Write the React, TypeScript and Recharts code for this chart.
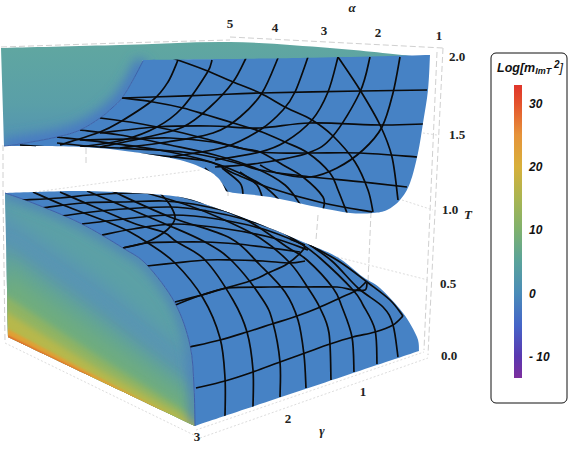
import React from "react";
import { ScatterChart, Scatter, XAxis, YAxis, ReferenceArea } from "recharts";

type P = number[];
const W = 574, H = 458;
const SERIF = "'Liberation Serif', serif";
const SANS = "'Liberation Sans', sans-serif";
const BLUE = "#4682c5";

// Picture-space read-offs of the projected 3D scene; repeated points are sharp corners
const backFace: P[] = [[1,48],[1,48],[120,45],[230,42],[330,48],[412,56],[412,56],[300,59],[143,60],[143,60],[138,72],[133,80],[122,98],[112,108],[100,118],[80,130],[57,137],[20,144],[4,146],[4,146]];
const backEdge: P[] = [[4,146],[20,144],[57,137],[80,130],[100,118],[112,108],[122,98],[133,80],[143,61]];
const upperSurface: P[] = [[143,60],[143,60],[220,59],[300,58],[430,55],[430,55],[428,90],[423,123],[418,153],[410,183],[400,200],[387,210],[373,213],[350,213],[317,207],[270,197],[235,193],[226,191],[226,191],[222,183],[217,177],[207,170],[180,160],[133,152],[83,147],[4,146],[4,146],[20,144],[57,137],[80,130],[100,118],[112,108],[122,98],[133,80]];
const lowerSurface: P[] = [[5,193],[5,193],[33,192],[83,191],[133,193],[180,197],[213,207],[257,223],[303,242],[337,257],[363,277],[380,288],[403,313],[417,337],[419,351],[419,351],[195,426],[195,426],[194,387],[190,345],[175,303],[147,265],[123,248],[80,223],[33,203]];
const sideFace: P[] = [[5,193],[5,193],[33,203],[80,223],[123,248],[147,265],[175,303],[190,345],[194,387],[195,426],[195,426],[8,337],[8,337]];
const sideEdge: P[] = [[195,426],[194,387],[190,345],[175,303],[147,265],[123,248],[80,223],[33,203],[5,193]];
const sideBands: P[][] = [
  [[0,190],[205,190],[205,370],[100,281],[0,212]],
  [[0,245],[100,316],[205,395],[205,445],[0,350]],
  [[0,270],[100,340],[205,413],[205,445],[0,350]],
  [[0,292],[100,358],[205,424],[205,445],[0,350]],
  [[0,308],[100,370],[205,429],[205,445],[0,350]],
  [[0,325],[100,378],[170,415],[100,395],[0,350]],
  [[0,332],[90,376],[90,395],[0,350]],
];
const sideBandColors = ["#5ca0a6", "#63a692", "#71ad7c", "#90b463", "#b7b84b", "#dfa035", "#e2552a"];

const upperMesh: P[][] = [
  [[400,57],[393,93],[382,127],[363,150],[337,168],[310,177],[277,173],[260,165]],
  [[370,57],[360,92],[333,136],[308,153],[260,163],[215,167]],
  [[338,57],[328,92],[312,120],[285,142],[260,152],[215,160]],
  [[308,57],[295,92],[283,110],[260,130],[225,147],[170,157]],
  [[278,58],[262,93],[240,117],[213,133],[167,142],[120,148]],
  [[246,58],[233,82],[210,107],[183,127],[143,138],[100,147]],
  [[212,60],[207,73],[182,108],[157,127],[123,140],[80,147]],
  [[178,60],[168,82],[153,100],[120,122],[100,132],[60,145]],
  [[172,58],[205,70],[233,82],[260,93],[287,108],[312,120],[333,136],[355,162],[368,190],[373,212]],
  [[338,57],[360,90],[380,125],[392,157],[398,200]],
  [[122,98],[153,102],[183,108],[207,115],[240,125],[262,132],[285,142],[308,153],[330,173],[338,190],[347,213]],
  [[100,118],[130,122],[157,127],[183,133],[210,140],[240,148],[260,152],[283,165],[303,177],[323,197],[323,210]],
  [[80,130],[120,135],[170,145],[215,155],[255,168],[285,185],[302,207]],
  [[57,137],[110,143],[170,152],[220,165],[262,185],[282,203]],
  [[122,98],[153,97],[210,95],[260,93],[360,91],[427,90]],
  [[100,133],[157,127],[210,126],[260,128],[310,123],[382,125],[423,124]],
  [[80,140],[130,139],[170,138],[213,142],[260,152],[308,153],[360,153],[417,157]],
  [[57,143],[100,147],[183,152],[233,162],[260,170],[303,176],[363,182],[407,187]],
  [[20,145],[100,151],[200,160],[233,173],[270,188],[323,203],[372,212]],
  [[205,168],[220,182],[228,193]],
  [[222,168],[240,183],[243,195]],
  [[240,172],[257,185],[263,200]],
];

const lowerMesh: P[][] = [
  [[33,192],[63,205],[110,223],[130,232],[148,243],[175,263],[203,298],[220,338],[225,378],[225,417]],
  [[60,192],[90,205],[133,223],[163,232],[177,242],[205,260],[233,300],[247,332],[253,370],[253,407]],
  [[87,191],[163,223],[205,242],[233,262],[263,300],[273,323],[280,362],[280,397]],
  [[112,191],[170,217],[230,238],[260,265],[285,292],[298,320],[304,355],[306,388]],
  [[140,191],[187,205],[220,218],[260,238],[290,263],[308,288],[320,308],[329,333],[331,380]],
  [[165,192],[210,205],[250,222],[287,247],[307,260],[333,288],[342,307],[352,337],[354,372]],
  [[195,197],[235,208],[270,225],[300,243],[320,258],[353,290],[363,305],[375,330],[377,364]],
  [[225,205],[255,215],[285,228],[310,245],[333,262],[358,288],[383,307],[393,325],[398,357]],
  [[310,245],[340,262],[367,282],[390,300],[403,316]],
  [[196,388],[225,381],[253,372],[280,362],[305,353],[330,344],[353,337],[375,332],[393,325],[403,316]],
  [[190,347],[220,340],[247,332],[272,324],[297,316],[318,308],[340,298],[357,290],[366,282]],
  [[175,302],[202,295],[228,288],[270,287],[303,287],[337,287],[353,290],[365,290],[367,283]],
  [[175,305],[202,295],[250,281],[268,273],[287,264],[303,250],[303,245],[290,239]],
  [[147,266],[175,263],[207,260],[233,260],[263,261],[290,263],[305,261]],
  [[123,248],[147,243],[177,242],[205,242],[237,244],[263,247],[300,252]],
  [[123,248],[147,242],[167,230],[175,218],[170,205],[160,193]],
  [[22,200],[60,198],[90,195],[133,193],[170,194],[205,200],[235,208]],
  [[42,208],[83,203],[123,202],[163,201],[193,204],[230,212],[265,222]],
  [[62,216],[110,210],[170,207],[207,211],[247,220],[285,233]],
  [[82,224],[133,218],[173,215],[217,219],[263,229],[305,245]],
  [[102,235],[133,229],[175,224],[227,229],[273,238],[308,250]],
];

const dashedLines: P[][] = [
  [[1,47],[120,43],[230,40]],
  [[230,37],[443,48]],
  [[443,48],[428,355]],
  [[437,52],[424,350]],
  [[3,145],[3,195],[5,340]],
  [[318,215],[316,240]],
  [[371,212],[368,282]],
  [[86,148],[86,166]],
  [[228,190],[228,198]],
];
const dottedLines: P[][] = [
  [[35,192],[200,170]],
  [[337,257],[428,280]],
  [[402,200],[433,210]],
  [[423,133],[437,135]],
  [[5,343],[200,438]],
  [[200,438],[428,358]],
  [[196,430],[424,352]],
];

const tickLabels = [
  { x: 230, y: 23, label: "5" }, { x: 275, y: 27, label: "4" }, { x: 324, y: 30, label: "3" },
  { x: 378, y: 32, label: "2" }, { x: 439, y: 35, label: "1" },
  { x: 457, y: 56, label: "2.0" }, { x: 457, y: 134, label: "1.5" }, { x: 450, y: 209, label: "1.0" },
  { x: 448, y: 283, label: "0.5" }, { x: 449, y: 355, label: "0.0" },
  { x: 363, y: 391, label: "1" }, { x: 288, y: 418, label: "2" }, { x: 197, y: 436, label: "3" },
];
const axisNames = [
  { x: 352, y: 7, label: "α" }, { x: 468, y: 214, label: "T" }, { x: 322, y: 430, label: "γ" },
];
const barLabels = [
  { x: 529, y: 104, label: "30" }, { x: 529, y: 167, label: "20" }, { x: 529, y: 230, label: "10" },
  { x: 529, y: 294, label: "0" }, { x: 529, y: 357, label: "- 10" },
];
const barStops: [number, string][] = [
  [0, "#e0352b"], [0.0625, "#e4522c"], [0.17, "#e6933a"], [0.278, "#d8b03a"], [0.39, "#a8b552"],
  [0.494, "#7fb16e"], [0.6, "#5aa39a"], [0.71, "#4a8cb8"], [0.82, "#4565c8"], [0.926, "#5a38b0"], [1, "#7d2f9e"],
];

const xy = (pts: P[]) => pts.map(([x, y]) => ({ x, y }));
const noDot = () => <g />;

function straight(pts: any[]) {
  return pts.map((p, i) => `${i ? "L" : "M"}${p.x} ${p.y}`).join("") + "Z";
}
function open(pts: any[]) {
  return pts.map((p, i) => `${i ? "L" : "M"}${p.x} ${p.y}`).join("");
}
function run(pts: any[]) {
  let d = "";
  for (let i = 0; i < pts.length - 1; i++) {
    const a = pts[Math.max(i - 1, 0)], b = pts[i], c = pts[i + 1], e = pts[Math.min(i + 2, pts.length - 1)];
    d += `C${b.x + (c.x - a.x) / 6} ${b.y + (c.y - a.y) / 6} ${c.x - (e.x - b.x) / 6} ${c.y - (e.y - b.y) / 6} ${c.x} ${c.y}`;
  }
  return d;
}
// a repeated point ends one smooth stretch and starts the next, leaving a sharp corner
function smooth(pts: any[]) {
  const runs: any[][] = [[]];
  pts.forEach((p, i) => {
    const prev = pts[i - 1];
    if (prev && prev.x === p.x && prev.y === p.y) runs.push([p]);
    else runs[runs.length - 1].push(p);
  });
  return `M${pts[0].x} ${pts[0].y}` + runs.map(run).join("");
}
const closed = (pts: any[]) => smooth(pts) + "Z";

function shape(key: string, pts: P[], draw: (points: any[]) => React.ReactElement) {
  return (
    <Scatter key={key} data={xy(pts)} isAnimationActive={false} shape={noDot}
      line={((p: any) => draw(p.points)) as any} />
  );
}

function texts(key: string, rows: { x: number; y: number; label: string }[], style: any, anchor = "middle") {
  return (
    <Scatter key={key} data={rows} isAnimationActive={false}
      shape={((p: any) => (
        <text x={p.cx} y={p.cy} textAnchor={anchor} dominantBaseline="central" style={style}>{p.payload.label}</text>
      )) as any} />
  );
}

export default function App() {
  return (
    <div style={{ position: "absolute", left: 0, top: 0, width: W, height: H }}>
      <ScatterChart width={W} height={H} margin={{ top: 0, right: 0, bottom: 0, left: 0 }}>
        <XAxis type="number" dataKey="x" domain={[0, W]} hide />
        <YAxis type="number" dataKey="y" domain={[0, H]} reversed hide />
        <defs>
          <linearGradient id="barGrad" x1="0" y1="0" x2="0" y2="1">
            {barStops.map(([o, c]) => <stop key={o} offset={o} stopColor={c} />)}
          </linearGradient>
          <linearGradient id="backGrad" x1="0" y1="0" x2="0" y2="1">
            <stop offset="0" stopColor="#60a7a0" />
            <stop offset="0.6" stopColor="#5a9fa8" />
            <stop offset="1" stopColor="#5292b4" />
          </linearGradient>
          <filter id="b1" x="-20%" y="-20%" width="140%" height="140%"><feGaussianBlur stdDeviation="1.2" /></filter>
          <filter id="b3" x="-20%" y="-20%" width="140%" height="140%"><feGaussianBlur stdDeviation="3" /></filter>
          <filter id="b5" x="-20%" y="-20%" width="140%" height="140%"><feGaussianBlur stdDeviation="9" /></filter>
          <filter id="b9" x="-20%" y="-50%" width="140%" height="200%"><feGaussianBlur stdDeviation="6" /></filter>
        </defs>

        {dashedLines.map((l, i) => shape(`da${i}`, l, (p) => (
          <path d={open(p)} fill="none" stroke="#d0d0d0" strokeWidth={1} strokeDasharray="6 3" />
        )))}
        {dottedLines.map((l, i) => shape(`do${i}`, l, (p) => (
          <path d={open(p)} fill="none" stroke="#dddddd" strokeWidth={1} strokeDasharray="2 2" />
        )))}

        {shape("clipBack", backFace, (p) => <clipPath id="cBack"><path d={closed(p)} /></clipPath>)}
        {shape("clipSide", sideFace, (p) => <clipPath id="cSide"><path d={closed(p)} /></clipPath>)}
        {shape("clipUp", upperSurface, (p) => <clipPath id="cUp"><path d={closed(p)} /></clipPath>)}
        {shape("clipLow", lowerSurface, (p) => <clipPath id="cLow"><path d={closed(p)} /></clipPath>)}

        {shape("back", backFace, (p) => <path d={closed(p)} fill="url(#backGrad)" />)}
        {shape("backGlow", backEdge, (p) => (
          <g clipPath="url(#cBack)"><path d={smooth(p)} fill="none" stroke="#4678c4" strokeWidth={14} filter="url(#b9)" /></g>
        ))}
        {shape("up", upperSurface, (p) => <path d={closed(p)} fill={BLUE} />)}
        {shape("backLine", backEdge, (p) => <path d={smooth(p)} fill="none" stroke="#3f62a8" strokeWidth={1} />)}
        {upperMesh.map((l, i) => shape(`um${i}`, l, (p) => (
          <g clipPath="url(#cUp)"><path d={smooth(p)} fill="none" stroke="#0b0b0b" strokeWidth={1.7} /></g>
        )))}

        {shape("side", sideFace, (p) => <path d={closed(p)} fill="#5894b4" />)}
        {sideBands.map((b, i) => shape(`sb${i}`, b, (p) => (
          <g clipPath="url(#cSide)">
            <path d={straight(p)} fill={sideBandColors[i]} filter={i < 3 ? "url(#b5)" : i < 5 ? "url(#b3)" : "url(#b1)"} />
          </g>
        )))}
        {shape("sideGlow", sideEdge, (p) => (
          <g clipPath="url(#cSide)"><path d={smooth(p)} fill="none" stroke="#4a7cc0" strokeWidth={8} filter="url(#b9)" /></g>
        ))}
        {shape("low", lowerSurface, (p) => <path d={closed(p)} fill={BLUE} />)}
        {shape("sideLine", sideEdge, (p) => <path d={smooth(p)} fill="none" stroke="#3f5fa8" strokeWidth={1} />)}
        {lowerMesh.map((l, i) => shape(`lm${i}`, l, (p) => (
          <g clipPath="url(#cLow)"><path d={smooth(p)} fill="none" stroke="#0b0b0b" strokeWidth={1.7} /></g>
        )))}

        {texts("ticks", tickLabels, { fontFamily: SERIF, fontWeight: 700, fontSize: 13, fill: "#222" })}
        {texts("names", axisNames, { fontFamily: SERIF, fontWeight: 700, fontStyle: "italic", fontSize: 13, fill: "#222" })}

        <ReferenceArea x1={491} x2={567} y1={53} y2={403} fill="#fff" fillOpacity={1} stroke="#111" strokeWidth={1} radius={5} ifOverflow="visible" />
        <ReferenceArea x1={514} x2={522} y1={85} y2={378} fill="url(#barGrad)" fillOpacity={1} stroke="none" ifOverflow="visible" />
        {texts("bar", barLabels, { fontFamily: SANS, fontWeight: 700, fontStyle: "italic", fontSize: 12, fill: "#111" }, "start")}
        <Scatter data={[{ x: 497, y: 68 }]} isAnimationActive={false}
          shape={((p: any) => (
            <text x={p.cx} y={p.cy} dominantBaseline="central" style={{ fontFamily: SANS, fontWeight: 700, fontStyle: "italic", fontSize: 12.5, fill: "#111" }}>
              Log[m<tspan fontSize={9} dy={3}>ImT</tspan><tspan fontSize={10} dy={-7}> 2</tspan><tspan dy={4} fontWeight={400}>]</tspan>
            </text>
          )) as any} />
      </ScatterChart>
    </div>
  );
}
